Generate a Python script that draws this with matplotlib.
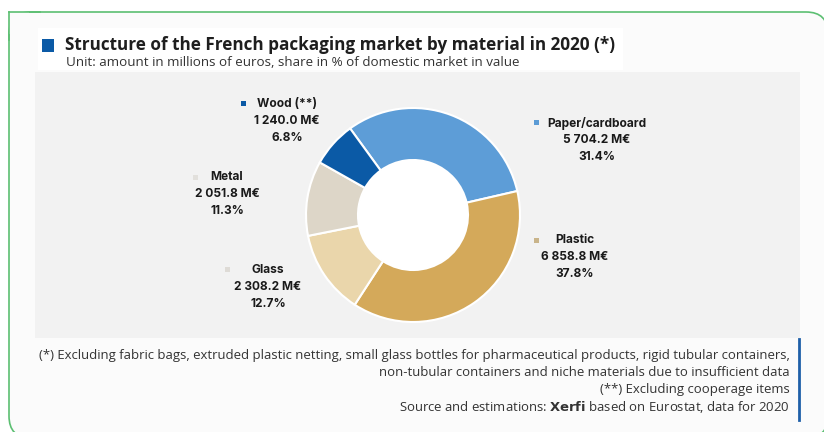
import matplotlib
matplotlib.use("Agg")
import matplotlib.pyplot as plt
from matplotlib.patches import FancyBboxPatch, Rectangle, Circle

W, H = 824, 432

materials = ["Paper/cardboard", "Plastic", "Glass", "Metal", "Wood (**)"]
amounts = [5704.2, 6858.8, 2308.2, 2051.8, 1240.0]
colors = ["#5d9dd7", "#d4a95a", "#ead6ab", "#ddd6c8", "#0b5aa6"]
marker_colors = ["#5b9bd5", "#c9b48a", "#dedbd6", "#e2e0dc", "#0b5aa6"]

title = "Structure of the French packaging market by material in 2020 (*)"
subtitle = "Unit: amount in millions of euros, share in % of domestic market in value"
notes = [
    "(*) Excluding fabric bags, extruded plastic netting, small glass bottles for pharmaceutical products, rigid tubular containers,",
    "non-tubular containers and niche materials due to insufficient data",
    "(**) Excluding cooperage items",
]

# label anchor (text centre x, first line y) and marker position, pixels from top-left
label_pos = [(597, 123), (575, 240), (268, 270), (227, 177), (287, 104)]
marker_pos = [(537, 122), (537, 240), (228, 269), (196, 177), (244, 103)]


def fy(y):
    return H - y


fig = plt.figure(figsize=(W / 100, H / 100), dpi=100)
fig.patch.set_facecolor("white")
ax = fig.add_axes([0, 0, 1, 1])
ax.set_xlim(0, W)
ax.set_ylim(0, H)
ax.axis("off")

# outer green frame (square top-left corner, rounded elsewhere)
green = "#5cbf72"
frame = FancyBboxPatch((9, fy(438)), 819, 438 - 12,
                       boxstyle="round,pad=0,rounding_size=22",
                       facecolor="#fbfbfb", edgecolor=green, linewidth=1.2)
ax.add_patch(frame)
ax.add_patch(Rectangle((9, fy(34)), 20, 22, facecolor="#fbfbfb", edgecolor="none"))
ax.plot([9, 9], [fy(12), fy(40)], color=green, lw=1.2)
ax.plot([9, 40], [fy(12), fy(12)], color=green, lw=1.2)

# title band and grey chart panel
ax.add_patch(Rectangle((38, fy(70)), 585, 42, facecolor="white", edgecolor="none"))
ax.add_patch(Rectangle((35, fy(338)), 765, 338 - 72, facecolor="#f2f2f2", edgecolor="none"))
ax.plot([799.5, 799.5], [fy(339), fy(420)], color="#1f5fa8", lw=2)

ax.add_patch(Rectangle((42, fy(52)), 12, 13, facecolor="#0b5aa6", edgecolor="none"))
ax.text(65, fy(45), title, fontsize=12.3, fontweight="bold", family="Open Sans",
        color="#1e1e1e", va="center", ha="left")
ax.text(66, fy(62), subtitle, fontsize=9.6, family="Open Sans",
        color="#333333", va="center", ha="left")

# donut
total = sum(amounts)
ax.pie(amounts, colors=colors, startangle=126, counterclock=False,
       center=(413, fy(215)), radius=107, frame=True,
       wedgeprops=dict(width=52, edgecolor="white", linewidth=1.5))
ax.add_patch(Circle((413, fy(215)), 55, facecolor="white", edgecolor="none"))
ax.set_xlim(0, W)
ax.set_ylim(0, H)
ax.set_aspect("auto")
ax.axis("off")

for name, amt, c, (lx, ly), (mx, my) in zip(materials, amounts, marker_colors,
                                            label_pos, marker_pos):
    share = amt / total * 100
    lines = [name, f"{amt:,.1f}".replace(",", " ") + " M€", f"{share:.1f}%"]
    for i, s in enumerate(lines):
        ax.text(lx, fy(ly + 17 * i), s, fontsize=8.6, fontweight="bold",
                family="Inter", color="#1a1a1a", ha="center", va="center")
    ax.add_patch(Rectangle((mx - 2.5, fy(my) - 2.5), 5, 5, facecolor=c, edgecolor="none"))

# footnotes
for i, s in enumerate(notes):
    ax.text(790, fy(355 + 17.3 * i), s, fontsize=9.45, family="Open Sans",
            color="#333333", ha="right", va="center")
ax.text(790, fy(407), "Source and estimations: $\\bf{Xerfi}$ based on Eurostat, data for 2020",
        fontsize=9.45, family="Open Sans", color="#333333", ha="right", va="center")

fig.savefig("out.png", dpi=100, facecolor=fig.get_facecolor())
